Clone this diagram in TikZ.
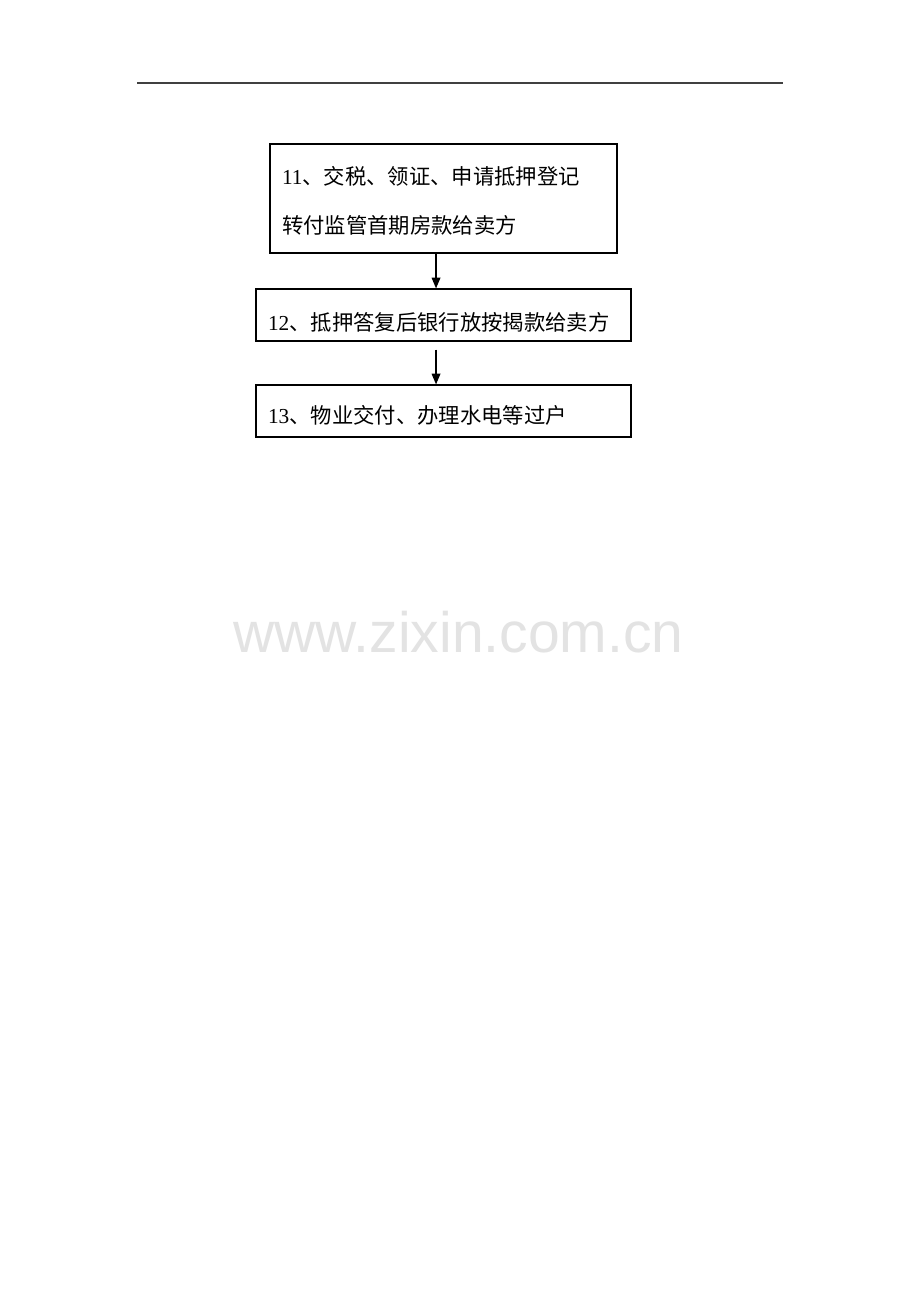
\documentclass[tikz,border=0pt]{standalone}
\usepackage{fontspec}
\setmainfont{Liberation Serif}
\newfontfamily\cjk{Noto Sans CJK SC}
\newfontfamily\wmfont{Liberation Sans}
\usetikzlibrary{arrows.meta}
\begin{document}
\begin{tikzpicture}[x=0.75pt,y=-0.75pt,
  flowbox/.style={draw=black,line width=0.9pt,inner xsep=9pt,inner ysep=0pt,
    align=left,font=\fontsize{16}{36}\selectfont,anchor=center},
  arr/.style={line width=0.9pt,-{Triangle[length=8pt,width=6.5pt]}}]
\useasboundingbox (0,0) rectangle (920,1302);
\fill[white] (0,0) rectangle (920,1302);
% header rule
\draw[line width=1.2pt,black!75] (137,83) -- (783,83);
% boxes
\node[flowbox,minimum width=260.25pt,minimum height=81.75pt,text width=242.25pt,
  text height=0pt,text depth=20.25pt] (b1) at (443.5,198.5)
  {11{\cjk 、交税、领证、申请抵押登记}\\{\cjk 转付监管首期房款给卖方}};
\node[flowbox,minimum width=281.25pt,minimum height=39pt,text width=263.25pt,
  text height=22.5pt,text depth=0pt] (b2) at (443.5,315)
  {12{\cjk 、抵押答复后银行放按揭款给卖方}};
\node[flowbox,minimum width=281.25pt,minimum height=39pt,text width=263.25pt,
  text height=18pt,text depth=0pt] (b3) at (443.5,411)
  {13{\cjk 、物业交付、办理水电等过户}};
% arrows
\draw[arr] ([xshift=-5.6pt]b1.south) -- ([xshift=-5.6pt]b2.north);
\draw[arr,shorten <=6pt] ([xshift=-5.6pt]b2.south) -- ([xshift=-5.6pt]b3.north);
% watermark
\node[anchor=base,inner sep=0pt,text=black!11,font=\wmfont\fontsize{42.8}{50}\selectfont] (wm) at (458.5,652) {www.zixin.com.cn};
\end{tikzpicture}
\end{document}
